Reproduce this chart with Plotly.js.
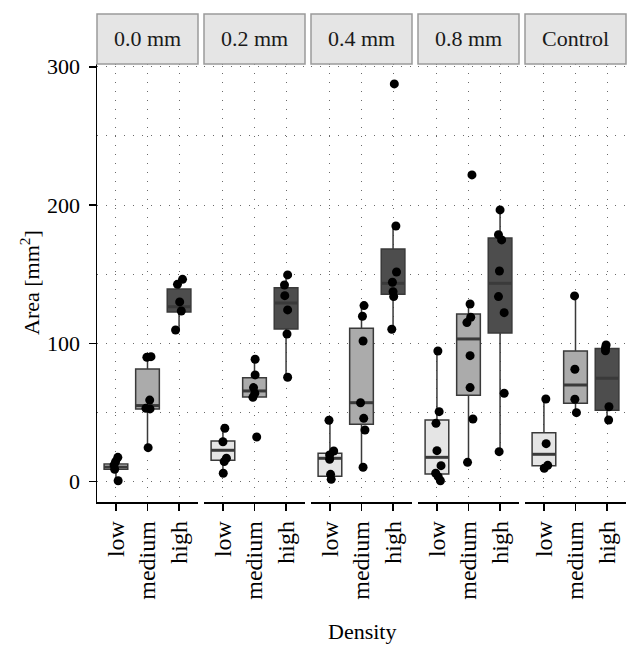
<!DOCTYPE html>
<html>
<head>
<meta charset="utf-8">
<script src="https://cdn.plot.ly/plotly-3.0.1.min.js"></script>
<style>html,body{margin:0;padding:0;background:#fff;}#chart{width:641px;height:656px;}</style>
</head>
<body>
<div id="chart"></div>
<script>
// ---- Data ----
const panels = ['0.0 mm', '0.2 mm', '0.4 mm', '0.8 mm', 'Control'];
const densities = ['low', 'medium', 'high'];

// Box statistics per panel: [low, medium, high]
const lowerFence = [[0.7, 24.6, 109.7], [6.1, 61.0, 75.5], [1.7, 10.4, 110.2], [0.7, 14.0, 21.7], [9.7, 49.9, 44.6]];
const q1Vals     = [[8.9, 52.5, 122.7], [15.5, 61.2, 110.4], [3.9, 41.5, 135.5], [5.6, 62.5, 107.5], [11.6, 56.7, 51.6]];
const medianVals = [[10.6, 55.0, 126.5], [22.7, 65.6, 129.2], [16.9, 57.1, 143.4], [17.6, 103.2, 143.4], [19.8, 69.9, 74.8]];
const q3Vals     = [[12.8, 81.5, 139.3], [29.4, 75.2, 140.3], [20.5, 110.9, 168.2], [44.6, 121.2, 176.2], [35.4, 94.5, 96.2]];
const upperFence = [[17.6, 90.4, 146.3], [38.6, 88.5, 149.5], [44.4, 127.3, 184.9], [94.5, 128.5, 196.5], [59.8, 134.3, 98.8]];

const area00 = [[17.6, 14.5, 12, 9, 0.7], [90, 90.4, 59, 53, 52.6, 24.6], [146.3, 142.7, 130, 123.4, 109.7]];
const jit00  = [[0.06, -0.01, -0.06, -0.04, 0.07], [-0.02, 0.11, 0.07, -0.05, 0.08, 0.02], [0.11, -0.05, 0.02, 0.07, -0.11]];
const area02 = [[38.6, 28.9, 16.9, 14.5, 6.1], [88.5, 77.2, 68, 63.9, 61, 32.3], [149.5, 142.2, 134.5, 124.2, 106.8, 75.5]];
const jit02  = [[0.06, 0, 0.11, 0.04, 0.01], [0.02, 0.02, -0.03, 0.01, -0.05, 0.07], [0.05, -0.05, -0.04, 0.05, 0.03, 0.05]];
const area04 = [[44.4, 22.2, 19.3, 16.2, 5.3, 1.7], [127.3, 119.6, 101.7, 57.1, 45.8, 37.4, 10.4], [287.6, 184.9, 151.6, 144.2, 137.4, 133.8, 110.2]];
const jit04  = [[-0.03, 0.12, -0.01, -0.01, 0.02, 0.04], [0.08, 0.03, 0.05, -0.03, 0.07, 0.11, 0.05], [0.04, 0.09, 0.11, -0.02, 0, 0.02, -0.04]];
const area08 = [[94.5, 50.6, 42.2, 22.4, 11.6, 6.1, 3.6, 0.7], [221.8, 128.5, 118.9, 115, 91.1, 68, 45.3, 14], [196.5, 178.6, 174.8, 152.3, 133.8, 122.2, 63.9, 21.7]];
const jit08  = [[0.03, 0.07, -0.03, 0, 0.13, -0.04, 0.04, 0.11], [0.11, 0.05, 0.07, -0.05, 0.05, 0.05, 0.14, -0.03], [0, -0.05, 0.05, -0.02, -0.05, 0.13, 0.13, -0.03]];
const areaCtl = [[59.8, 27.5, 11.8, 9.7], [134.3, 81.3, 59.6, 49.9], [98.8, 96.9, 94.7, 54.2, 44.6]];
const jitCtl  = [[0.06, 0.07, 0.12, 0.01], [-0.03, -0.02, -0.02, 0.03], [-0.03, -0.05, -0.05, 0.06, 0.05]];

const yTicks = [0, 100, 200, 300];

const areas = [area00, area02, area04, area08, areaCtl];
const jits = [jit00, jit02, jit04, jit08, jitCtl];

// ---- Styling ----
const FONT = 'Liberation Serif, Times New Roman, serif';
const fills = ['#E5E5E5', '#ABABAB', '#4D4D4D'];
const boxLine = '#3a3a3a';
const gridCol = '#6a6a6a';
const gridDash = '1px,8px';
const BOXW = 0.75;

const W = 641, H = 656;
const M = {l: 97, r: 14, t: 64, b: 154};
const plotW = W - M.l - M.r;   // 530
const plotH = H - M.t - M.b;   // 438
const panelW = 101, gap = 6;

const traces = [];
const layout = {
  width: W, height: H,
  margin: M,
  paper_bgcolor: '#fff', plot_bgcolor: '#fff',
  showlegend: false,
  font: {family: FONT, size: 22, color: '#000'},
  shapes: [], annotations: [],
  yaxis: {
    range: [-14.7, 302], anchor: 'x',
    tickvals: yTicks, ticks: 'outside', ticklen: 7, tickwidth: 1.5, tickcolor: '#000',
    ticklabelstandoff: 4,
    showline: true, linecolor: '#000', linewidth: 1.5,
    showgrid: true, gridcolor: gridCol, griddash: gridDash, gridwidth: 1,
    minor: {dtick: 50, tick0: 0, showgrid: true, gridcolor: gridCol, griddash: gridDash, gridwidth: 1},
    zeroline: false,
    tickfont: {family: FONT, size: 22, color: '#000'}
  }
};

panels.forEach((p, i) => {
  const axName = i === 0 ? 'x' : 'x' + (i + 1);
  const layName = i === 0 ? 'xaxis' : 'xaxis' + (i + 1);
  const d0 = (i * (panelW + gap)) / plotW;
  const d1 = (i * (panelW + gap) + panelW) / plotW;
  layout[layName] = {
    domain: [d0, d1], anchor: 'y',
    range: [-0.6, 2.6],
    tickvals: [0, 1, 2], ticktext: densities,
    tickangle: -90, ticks: 'outside', ticklen: 7, tickwidth: 1.5, tickcolor: '#000',
    ticklabelstandoff: 1,
    showline: true, linecolor: '#000', linewidth: 1.5,
    showgrid: true, gridcolor: gridCol, griddash: gridDash, gridwidth: 1,
    zeroline: false, fixedrange: true,
    tickfont: {family: FONT, size: 24, color: '#000'}
  };

  densities.forEach((d, k) => {
    traces.push({
      type: 'box', xaxis: axName, yaxis: 'y',
      x: [k],
      q1: [q1Vals[i][k]], median: [medianVals[i][k]], q3: [q3Vals[i][k]],
      lowerfence: [lowerFence[i][k]], upperfence: [upperFence[i][k]],
      width: BOXW, whiskerwidth: 0,
      boxpoints: false,
      fillcolor: fills[k],
      line: {color: boxLine, width: 1.5},
      hoverinfo: 'skip', showlegend: false
    });
    // thicker median bar (as in ggplot)
    traces.push({
      type: 'scatter', mode: 'lines', xaxis: axName, yaxis: 'y',
      x: [k - BOXW / 2, k + BOXW / 2],
      y: [medianVals[i][k], medianVals[i][k]],
      line: {color: boxLine, width: 3},
      hoverinfo: 'skip', showlegend: false
    });
  });

  densities.forEach((d, k) => {
    traces.push({
      type: 'scatter', mode: 'markers', xaxis: axName, yaxis: 'y',
      x: areas[i][k].map((v, j) => k + jits[i][k][j]),
      y: areas[i][k],
      marker: {color: '#000', size: 9},
      hoverinfo: 'skip', showlegend: false, cliponaxis: false
    });
  });

  // facet strip
  const stripH = 50 / plotH;
  layout.shapes.push({
    type: 'rect', xref: 'paper', yref: 'paper',
    x0: d0, x1: d1, y0: 1, y1: 1 + stripH,
    fillcolor: '#E5E5E5', line: {color: '#9a9a9a', width: 1.5}, layer: 'above'
  });
  layout.annotations.push({
    xref: 'paper', yref: 'paper', x: (d0 + d1) / 2, y: 1 + stripH / 2,
    xanchor: 'center', yanchor: 'middle', showarrow: false,
    text: p, font: {family: FONT, size: 22, color: '#1a1a1a'}
  });
});

// axis titles
layout.annotations.push({
  xref: 'paper', yref: 'paper', x: 0.5, y: (502 - 631) / plotH,
  xanchor: 'center', yanchor: 'middle', showarrow: false,
  text: 'Density', font: {family: FONT, size: 22, color: '#000'}
});
layout.annotations.push({
  xref: 'paper', yref: 'paper', x: (30 - M.l) / plotW, y: 0.5,
  xanchor: 'center', yanchor: 'middle', showarrow: false, textangle: -90,
  text: 'Area [mm<sup>2</sup>]', font: {family: FONT, size: 22, color: '#000'}
});

Plotly.newPlot('chart', traces, layout, {displayModeBar: false, staticPlot: true});
</script>
</body>
</html>
